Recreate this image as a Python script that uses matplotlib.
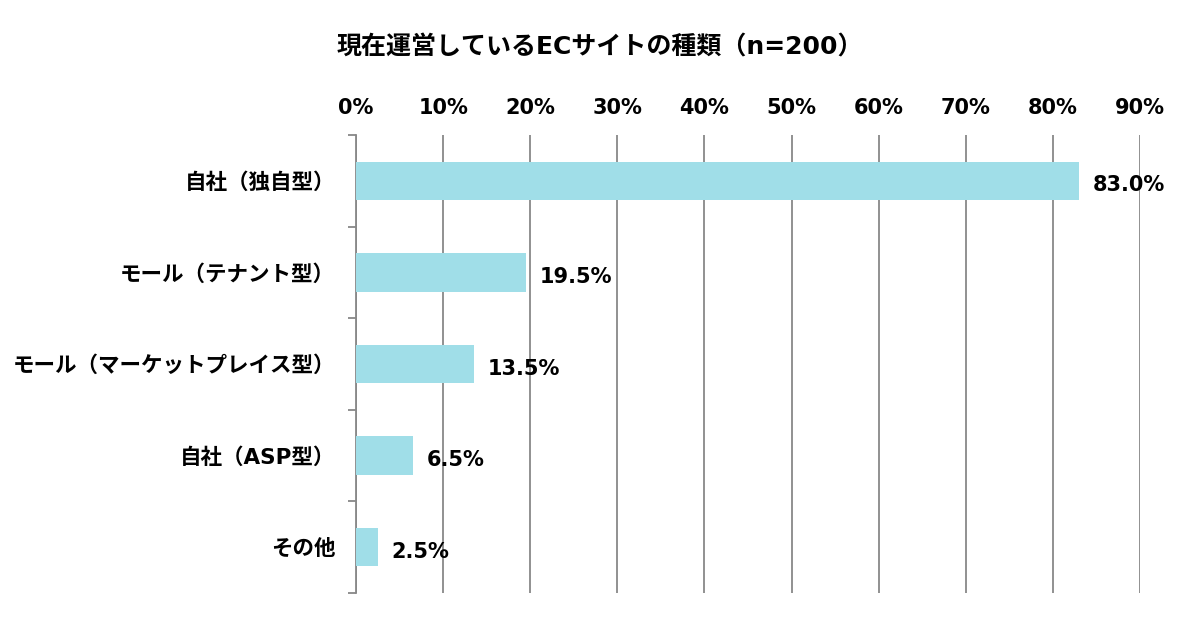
import matplotlib
matplotlib.use("Agg")
import matplotlib.pyplot as plt
import numpy as np

plt.rcParams["font.family"] = ["DejaVu Sans", "Noto Sans CJK JP"]
plt.rcParams["font.weight"] = "bold"

title = "現在運営しているECサイトの種類（n=200）"
categories = ["自社（独自型）", "モール（テナント型）", "モール（マーケットプレイス型）", "自社（ASP型）", "その他"]
values = [83.0, 19.5, 13.5, 6.5, 2.5]
xticks = [0, 10, 20, 30, 40, 50, 60, 70, 80, 90]

fig = plt.figure(figsize=(12, 6.21), dpi=100)
ax = fig.add_axes([0.2967, 0.0451, 0.6533, 0.7375])
y = np.arange(len(categories))
ax.barh(y, values, height=0.42, color="#A0DEE8", zorder=3)
ax.set_xlim(0, 90)
ax.set_ylim(len(categories) - 0.5, -0.5)
ax.xaxis.tick_top()
ax.set_xticks(xticks)
ax.set_xticklabels([f"{t}%" for t in xticks], fontsize=15, fontweight="bold")
ax.tick_params(axis="x", length=0, pad=12)
ax.grid(axis="x", color="#888888", linewidth=1.3, zorder=0)
ax.set_yticks(y)
ax.set_yticklabels(categories, fontsize=15.5, fontweight="bold")
ax.tick_params(axis="y", length=0, pad=15)
ax.set_yticks(np.arange(len(categories) + 1) - 0.5, minor=True)
ax.tick_params(axis="y", which="minor", length=6, color="#888888", width=1.3)
for s in ["top", "right", "bottom"]:
    ax.spines[s].set_visible(False)
ax.spines["left"].set_color("#888888")
ax.spines["left"].set_linewidth(1.3)
for yi, v in zip(y, values):
    ax.text(v + 1.6, yi + 0.05, f"{v:.1f}%", va="center", ha="left", fontsize=15, fontweight="bold")
fig.text(0.5, 0.924, title, ha="center", va="center", fontsize=18, fontweight="bold")
fig.savefig("out.png", dpi=100)
